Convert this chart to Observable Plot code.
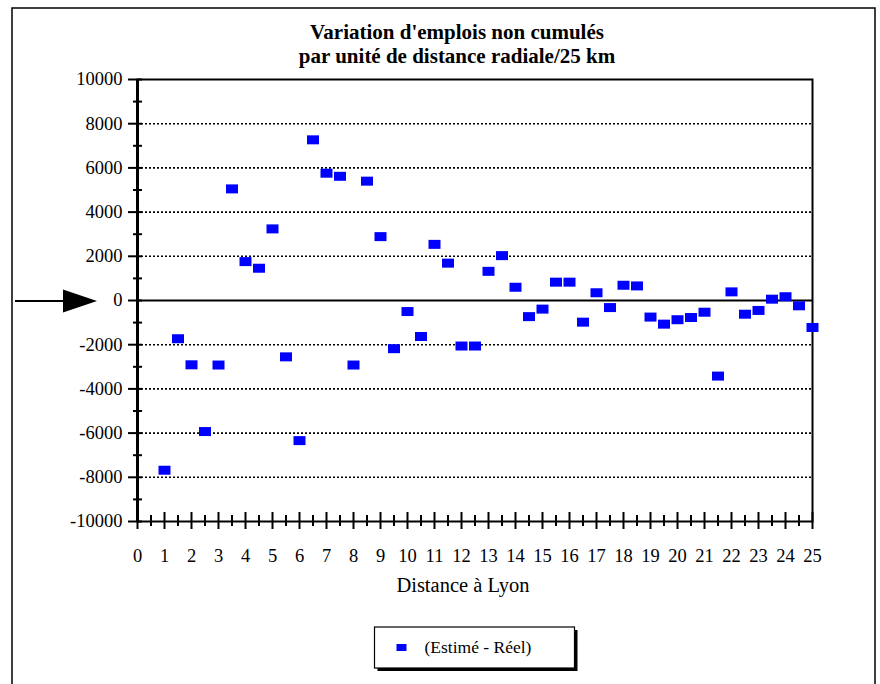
<!DOCTYPE html>
<html>
<head>
<meta charset="utf-8">
<script src="https://cdn.jsdelivr.net/npm/d3@7"></script>
<script src="https://cdn.jsdelivr.net/npm/@observablehq/plot@0.6"></script>
<style>
  html, body { margin: 0; padding: 0; background: #fff; }
  svg { display: block; }
  #chart svg text { font-family: 'Liberation Serif', 'Times New Roman', Times, serif !important; }
</style>
</head>
<body>
<div id="chart"></div>
<script>
// ---- Data ----
const distances = [1, 1.5, 2, 2.5, 3, 3.5, 4, 4.5, 5, 5.5, 6, 6.5, 7, 7.5, 8, 8.5, 9, 9.5, 10, 10.5,
  11, 11.5, 12, 12.5, 13, 13.5, 14, 14.5, 15, 15.5, 16, 16.5, 17, 17.5, 18, 18.5, 19, 19.5, 20, 20.5,
  21, 21.5, 22, 22.5, 23, 23.5, 24, 24.5, 25];
const variations = [-7680, -1730, -2910, -5930, -2920, 5050, 1760, 1460, 3240, -2550,
  -6340, 7270, 5760, 5620, -2920, 5400, 2890, -2180, -500, -1630,
  2540, 1690, -2060, -2060, 1320, 2030, 600, -730, -390, 830,
  830, -980, 350, -320, 690, 660, -750, -1070, -870, -770,
  -530, -3420, 390, -620, -450, 60, 170, -240, -1220];

const yTicks = [-10000, -8000, -6000, -4000, -2000, 0, 2000, 4000, 6000, 8000, 10000];
const yMinorTicks = [-9000, -7000, -5000, -3000, -1000, 1000, 3000, 5000, 7000, 9000];
const gridValues = [-8000, -6000, -4000, -2000, 2000, 4000, 6000, 8000];
const xTicks = [0, 1, 2, 3, 4, 5, 6, 7, 8, 9, 10, 11, 12, 13, 14, 15, 16, 17, 18, 19, 20, 21, 22, 23, 24, 25];
const xMinorTicks = [0.5, 1.5, 2.5, 3.5, 4.5, 5.5, 6.5, 7.5, 8.5, 9.5, 10.5, 11.5, 12.5, 13.5, 14.5,
  15.5, 16.5, 17.5, 18.5, 19.5, 20.5, 21.5, 22.5, 23.5, 24.5];
const titleLines = ["Variation d'emplois non cumulés", "par unité de distance radiale/25 km"];
const xLabel = "Distance à Lyon";
const seriesName = "(Estimé - Réel)";

const rows = distances.map((d, i) => ({distance: d, variation: variations[i]}));

const serif = "'Liberation Serif', 'Times New Roman', Times, serif";
const blue = "#0000ff";
const rectSymbol = {
  draw(ctx) { ctx.moveTo(-6, -4.5); ctx.lineTo(6, -4.5); ctx.lineTo(6, 4.5); ctx.lineTo(-6, 4.5); ctx.closePath(); }
};

const chart = Plot.plot({
  width: 880,
  height: 684,
  marginLeft: 137,
  marginRight: 68,
  marginTop: 79,
  marginBottom: 163,
  style: {fontFamily: serif, fontSize: "18px", color: "#000", background: "#fff", overflow: "visible"},
  x: {domain: [0, 25]},
  y: {domain: [-10000, 10000]},
  marks: [
    Plot.ruleY(gridValues, {stroke: "#000", strokeWidth: 1.6, strokeDasharray: "2,2"}),
    Plot.ruleY([0], {stroke: "#000", strokeWidth: 2}),
    Plot.frame({stroke: "#000", strokeWidth: 2}),
    Plot.ruleX([0], {stroke: "#000", strokeWidth: 3}),
    // y ticks crossing the axis
    Plot.ruleY(yTicks, {x1: 0, x2: 0, insetLeft: -9, insetRight: -5, stroke: "#000", strokeWidth: 2}),
    Plot.ruleY(yMinorTicks, {x1: 0, x2: 0, insetLeft: -4, insetRight: -5, stroke: "#000", strokeWidth: 2}),
    // x ticks crossing the axis
    Plot.ruleX(xTicks, {y1: -10000, y2: -10000, insetTop: -9, insetBottom: -8, stroke: "#000", strokeWidth: 2}),
    Plot.ruleX(xMinorTicks, {y1: -10000, y2: -10000, insetTop: -6, insetBottom: -5, stroke: "#000", strokeWidth: 2}),
    Plot.axisY({ticks: yTicks, tickSize: 0, tickPadding: 15, tickFormat: d => String(d), fontSize: 18.5, label: null}),
    Plot.axisX({ticks: xTicks, tickSize: 0, tickPadding: 27, tickFormat: d => String(d), fontSize: 18.5, label: null}),
    Plot.text([xLabel], {frameAnchor: "bottom", dy: 64, dx: -12, fontSize: 20.5, lineAnchor: "middle"}),
    Plot.text([titleLines.join("\n")], {frameAnchor: "top", dy: -17, dx: -18, fontSize: 21, fontWeight: "bold", lineAnchor: "bottom", lineHeight: 1.14}),
    Plot.dot(rows, {x: "distance", y: "variation", symbol: rectSymbol, fill: blue, stroke: "none", r: 6})
  ]
});

document.getElementById("chart").appendChild(chart);

// ---- Decorations: outer frame, arrow pointing at zero, legend ----
const svg = d3.select(chart);
const xs = chart.scale("x"), ys = chart.scale("y");
const y0 = ys.apply(0) + 1;
const plotLeft = xs.apply(0);
const plotCenter = (xs.apply(0) + xs.apply(25)) / 2;

svg.append("rect")
  .attr("x", 12).attr("y", 8).attr("width", 863).attr("height", 700)
  .attr("fill", "none").attr("stroke", "#000").attr("stroke-width", 1.5);

const arrow = svg.append("g");
arrow.append("line")
  .attr("x1", plotLeft - 122).attr("x2", plotLeft - 72)
  .attr("y1", y0).attr("y2", y0)
  .attr("stroke", "#000").attr("stroke-width", 2);
arrow.append("path")
  .attr("d", `M${plotLeft - 74},${y0 - 11.5}L${plotLeft - 40},${y0}L${plotLeft - 74},${y0 + 11.5}Z`)
  .attr("fill", "#000");

const legW = 200, legH = 41, legTop = 627;
const legLeft = plotCenter - legW / 2;
const legend = svg.append("g");
legend.append("rect")
  .attr("x", legLeft + 3).attr("y", legTop + 3).attr("width", legW).attr("height", legH)
  .attr("fill", "#000");
legend.append("rect")
  .attr("x", legLeft).attr("y", legTop).attr("width", legW).attr("height", legH)
  .attr("fill", "#fff").attr("stroke", "#000").attr("stroke-width", 1.2);
legend.append("rect")
  .attr("x", legLeft + 22).attr("y", legTop + legH / 2 - 3.5).attr("width", 10).attr("height", 7)
  .attr("fill", blue);
legend.append("text")
  .attr("x", legLeft + 50).attr("y", legTop + legH / 2).attr("dy", "0.34em")
  .attr("text-anchor", "start")
  .attr("font-family", serif).attr("font-size", 17.5).attr("fill", "#000")
  .text(seriesName);
</script>
</body>
</html>
